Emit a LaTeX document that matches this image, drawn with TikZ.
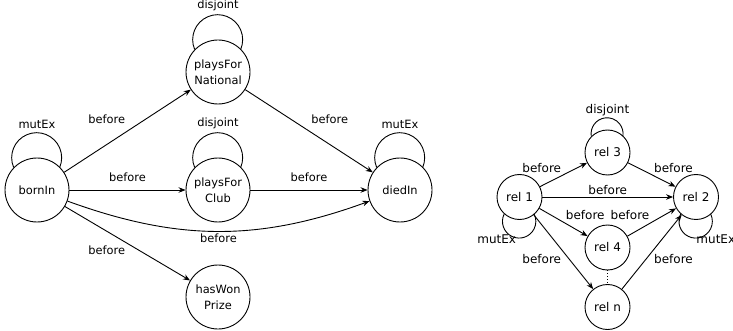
\documentclass[tikz,border=0pt]{standalone}
\usepackage{fontspec}
\setmainfont{DejaVu Sans}
\usetikzlibrary{arrows.meta,positioning}

\begin{document}
\begin{tikzpicture}[x=1pt,y=1pt,line width=0.9pt]
        \tikzstyle{every node}+=[inner sep=0pt]
        \tikzstyle{bigrel}=[draw,circle,minimum size=64pt,align=center,font=\fontsize{11.4}{15.7}\selectfont]
        \tikzstyle{smallrel}=[draw,circle,minimum size=45pt,font=\fontsize{12}{14}\selectfont]
        \tikzstyle{biglab}=[inner sep=2pt,font=\fontsize{11.4}{14}\selectfont]
        \tikzstyle{smalllab}=[inner sep=2pt,font=\fontsize{12}{14}\selectfont]
        \tikzstyle{arr}=[-{Stealth[length=7pt,width=5.5pt]}]
        \useasboundingbox (0,0) rectangle (733,-331);
        \node [bigrel] (born) at (37,-190) {bornIn};
        \node [bigrel] (national) at (218,-72) {playsFor\\National};
        \node [bigrel] (club) at (218,-190) {playsFor\\Club};
        \node [bigrel] (died) at (400,-190) {diedIn};
        \node [bigrel] (prize) at (218,-297) {hasWon\\Prize};
        \draw (born.136) arc[start angle=203,end angle=-23,radius=25];
        \draw (national.136) arc[start angle=203,end angle=-23,radius=25];
        \draw (club.136) arc[start angle=203,end angle=-23,radius=25];
        \draw (died.136) arc[start angle=203,end angle=-23,radius=25];
        \node [biglab,inner sep=0pt,above=28pt of born.north] (bornloop) {mutEx};
        \node [biglab,inner sep=0pt,above=28pt of national.north] (nationalloop) {disjoint};
        \node [biglab,inner sep=0pt,above=28pt of club.north] (clubloop) {disjoint};
        \node [biglab,inner sep=0pt,above=28pt of died.north] (diedloop) {mutEx};
        \draw [arr] (born) -- node[biglab,midway,above left,yshift=5pt] {before} (national);
        \draw [arr] (born) -- node[biglab,midway,above,yshift=6pt] {before} (club);
        \draw [arr] (born) -- node[biglab,midway,below left] {before} (prize);
        \draw [arr] (born) to[bend right=20] node[biglab,midway,below] {before} (died);
        \draw [arr] (national) -- node[biglab,midway,above right,yshift=5pt] {before} (died);
        \draw [arr] (club) -- node[biglab,midway,above,yshift=6pt] {before} (died);
        \node [smallrel] (rel1) at (519.5,-197) {rel 1};
        \node [smallrel] (rel3) at (607.5,-152.5) {rel 3};
        \node [smallrel] (rel2) at (696,-197) {rel 2};
        \node [smallrel] (rel4) at (607.5,-247.5) {rel 4};
        \node [smallrel] (reln) at (607.5,-307) {rel n};
        \draw (rel3.135) arc[start angle=189,end angle=-9,radius=16];
        \draw (rel1.228) arc[start angle=154,end angle=386,radius=16.7];
        \draw (rel2.228) arc[start angle=154,end angle=386,radius=16.7];
        \node [smalllab,inner sep=0pt,above=13pt of rel3.north] (rel3loop) {disjoint};
        \node [smalllab,inner sep=0pt,anchor=east] (rel1loop) at ([shift={(-3,-19)}]rel1.south) {mutEx};
        \node [smalllab,inner sep=0pt,anchor=west] (rel2loop) at ([shift={(0,-19)}]rel2.south) {mutEx};
        \draw [arr] (rel1) -- node[smalllab,midway,above left] {before} (rel3);
        \draw [arr] (rel3) -- node[smalllab,midway,above right] {before} (rel2);
        \draw [arr] (rel1) -- node[smalllab,midway,above] {before} (rel2);
        \draw [arr] (rel1) -- node[smalllab,midway,above right] {before} (rel4);
        \draw [arr] (rel4) -- node[smalllab,midway,above left] {before} (rel2);
        \draw [arr] (rel1) -- node[smalllab,midway,below left] {before} (reln);
        \draw [arr] (reln) -- node[smalllab,midway,below right] {before} (rel2);
        \draw [dotted] (rel4) -- (reln);
\end{tikzpicture}
\end{document}
